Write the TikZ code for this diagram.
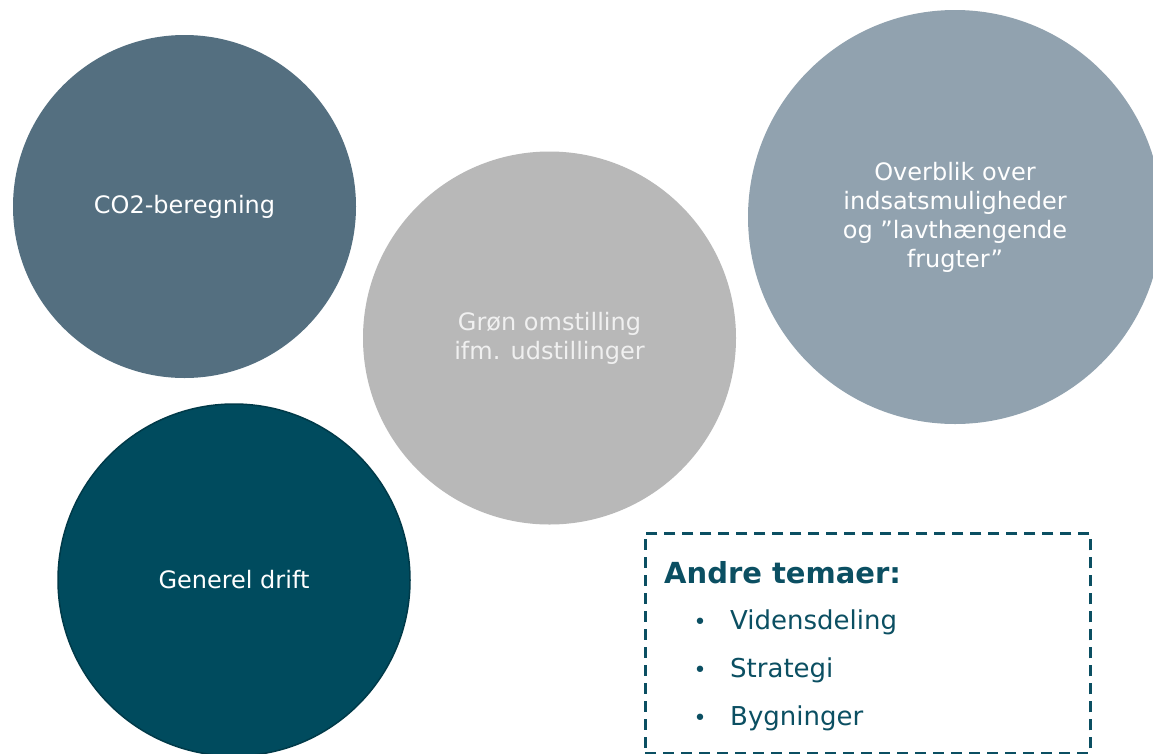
\documentclass[tikz,border=0pt]{standalone}
\usepackage{fontspec}
\setmainfont{DejaVu Sans}
\definecolor{cA}{HTML}{546F80}
\definecolor{cB}{HTML}{B8B8B8}
\definecolor{cC}{HTML}{91A2AF}
\definecolor{cD}{HTML}{004B5E}
\definecolor{cDline}{HTML}{003A49}
\definecolor{teal}{HTML}{0B4F62}
\tikzset{
  bubble/.style={circle, inner sep=0pt, text=white, align=center,
    font=\fontsize{24}{29}\selectfont},
  itemtext/.style={anchor=base west, text=teal, inner sep=0pt,
    font=\fontsize{26}{31}\selectfont},
  bullettext/.style={anchor=base, text=teal, inner sep=0pt,
    font=\fontsize{22}{26}\selectfont},
}
\begin{document}
\begin{tikzpicture}[x=1pt,y=-1pt]
\useasboundingbox (0,0) rectangle (1153,753);
\clip (0,0) rectangle (1153,753);
\fill[white] (0,0) rectangle (1153,753);
\node[bubble, fill=cA, minimum size=343] (co2) at (184.5,206.5) {\raisebox{-3pt}{CO2-beregning}};
\node[bubble, fill=cB, minimum size=373, text=white!94!black] (gron) at (549.5,338) {Grøn omstilling\\ifm. udstillinger};
\node[bubble, fill=cC, minimum size=414] (over) at (955,217) {Overblik over\\indsatsmuligheder\\og ”lavthængende\\frugter”};
\node[bubble, fill=cD, draw=cDline, line width=1.5pt, minimum size=352] (drift) at (234,580) {Generel drift};
\node[draw=teal, line width=2.5pt, dash pattern=on 11pt off 7pt, rectangle, inner sep=0pt,
  minimum width=445, minimum height=220, anchor=north west] (box) at (644,532) {};
\node[anchor=base west, text=teal, inner sep=0pt, font=\fontsize{29}{34}\selectfont\bfseries] (title) at (664,583) {Andre temaer:};
\node[bullettext] (b1) at (700,629) {•};
\node[itemtext] (t1) at (730,629) {Vidensdeling};
\node[bullettext] (b2) at (700,677) {•};
\node[itemtext] (t2) at (730,677) {Strategi};
\node[bullettext] (b3) at (700,725) {•};
\node[itemtext] (t3) at (730,725) {Bygninger};
\end{tikzpicture}
\end{document}
